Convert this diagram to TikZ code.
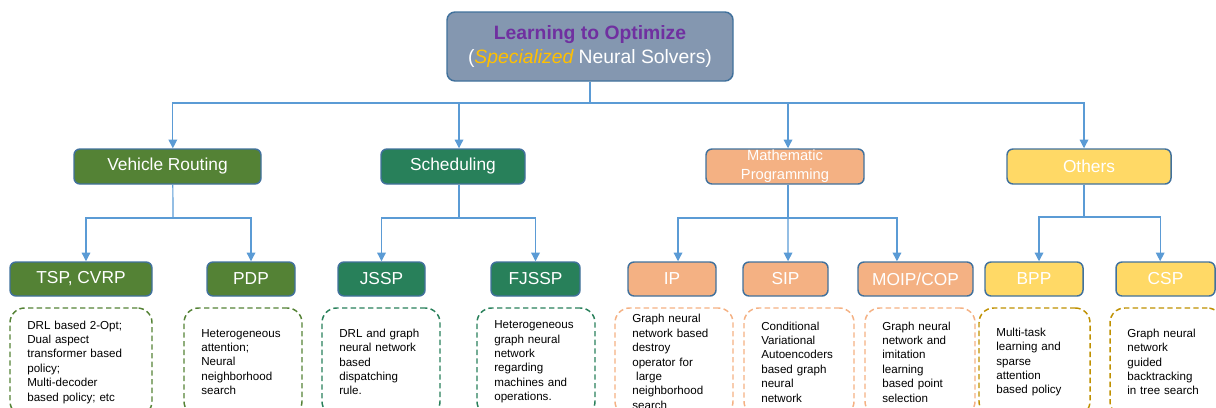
\documentclass[tikz,border=0pt]{standalone}
\usepackage{fontspec}
\setmainfont{Liberation Sans}
\usepackage{tikz}
\usetikzlibrary{arrows.meta}
\definecolor{rootfill}{HTML}{8497B0}
\definecolor{boxline}{HTML}{41719C}
\definecolor{linkblue}{HTML}{5B9BD5}
\definecolor{titlepurple}{HTML}{7030A0}
\definecolor{specgold}{HTML}{FFC000}
\definecolor{vrgreen}{HTML}{548235}
\definecolor{schedgreen}{HTML}{28805A}
\definecolor{mporange}{HTML}{F4B183}
\definecolor{othyellow}{HTML}{FFD966}
\definecolor{othgold}{HTML}{BF9000}

\begin{document}
\begin{tikzpicture}[x=0.75pt,y=-0.75pt]
    \tikzset{root/.style = {draw=boxline, line width=1.1pt, rounded corners=6pt, fill=rootfill, align=center, inner sep=0pt, font=\fontsize{14.5}{18}\selectfont}}
    \tikzset{cat/.style = {draw=boxline, line width=1.1pt, rounded corners=4.5pt, text=white, inner sep=0pt, minimum height=26.25pt, font=\fontsize{13}{15}\selectfont}}
    \tikzset{leaf/.style = {cat, minimum height=25.5pt}}
    \tikzset{note/.style = {draw, dash pattern=on 4pt off 2.5pt, line width=1.1pt, rounded corners=11pt, minimum height=81pt, align=left, inner xsep=13pt, inner ysep=2pt, font=\fontsize{8.7}{10.8}\selectfont}}
    \tikzset{link/.style = {draw=linkblue, line width=0.9pt, -{Triangle[length=6.5pt,width=6.5pt]}}}
    \tikzset{stem/.style = {draw=linkblue, line width=0.9pt}}

    \useasboundingbox (0,0) rectangle (1216,407);
    \clip (0,0) rectangle (1216,407);

    % vertices
    \node[root, minimum width=214.5pt, minimum height=51.75pt] (top) at (590,46.5)
        {{\color{titlepurple}\bfseries Learning to Optimize}\\
         \color{white}(\textcolor{specgold}{\itshape Specialized} Neural Solvers)};

    \node[cat, fill=vrgreen, minimum width=140.25pt] (vr) at (167.5,166.5) {Vehicle Routing};
    \node[cat, fill=schedgreen, minimum width=108pt] (sched) at (453,166.5) {Scheduling};
    \node[cat, fill=mporange, minimum width=118.5pt, align=center, font=\fontsize{11}{14.5}\selectfont] (mp) at (785,166.5) {Mathematic\\Programming};
    \node[cat, fill=othyellow, minimum width=123pt] (oth) at (1089,166.5) {Others};

    \node[leaf, fill=vrgreen, minimum width=106.5pt] (tsp) at (81,279) {TSP, CVRP};
    \node[leaf, fill=vrgreen, minimum width=66pt] (pdp) at (251,279) {PDP};
    \node[leaf, fill=schedgreen, minimum width=65.25pt] (jssp) at (381.5,279) {JSSP};
    \node[leaf, fill=schedgreen, minimum width=66.75pt] (fjssp) at (535.5,279) {FJSSP};
    \node[leaf, fill=mporange, minimum width=66pt] (ip) at (672,279) {IP};
    \node[leaf, fill=mporange, minimum width=63.75pt] (sip) at (785.5,279) {SIP};
    \node[leaf, fill=mporange, minimum width=86.25pt] (moip) at (915.5,279) {MOIP/COP};
    \node[leaf, fill=othyellow, minimum width=73.5pt] (bpp) at (1034,279) {BPP};
    \node[leaf, fill=othyellow, minimum width=74.25pt] (csp) at (1165.5,279) {CSP};

    \node[note, draw=vrgreen, text width=80.5pt] (tspnote) at (81,362)
        {DRL based 2-Opt;\\Dual aspect\\transformer based\\policy;\\Multi-decoder\\based policy; etc};
    \node[note, draw=vrgreen, text width=62.5pt] (pdpnote) at (243,362)
        {Heterogeneous\\attention;\\Neural\\neighborhood\\search};
    \node[note, draw=schedgreen, text width=62.5pt] (jsspnote) at (381,362)
        {DRL and graph\\neural network\\based\\dispatching\\rule.};
    \node[note, draw=schedgreen, text width=62.5pt] (fjsspnote) at (536,362)
        {Heterogeneous\\graph neural\\network\\regarding\\machines and\\operations.};
    \node[note, draw=mporange, text width=62.5pt] (ipnote) at (674,362)
        {Graph neural\\network based\\destroy\\operator for\\\ large\\neighborhood\\search};
    \node[note, draw=mporange, text width=56.5pt] (sipnote) at (799,362)
        {Conditional\\Variational\\Autoencoders\\based graph\\neural\\network};
    \node[note, draw=mporange, text width=56.5pt] (moipnote) at (920,362)
        {Graph neural\\network and\\imitation\\learning\\based point\\selection};
    \node[note, draw=othgold, text width=57.25pt] (bppnote) at (1034.5,362)
        {Multi-task\\learning and\\sparse\\attention\\based policy};
    \node[note, draw=othgold, text width=58pt] (cspnote) at (1166,362)
        {Graph neural\\network\\guided\\backtracking\\in tree search};

    % edges
    \coordinate (j0) at (590,103);
    \coordinate (j1) at (173,218);
    \coordinate (j2) at (459,218);
    \coordinate (j3) at (788,218);
    \coordinate (j4) at (1084,217);

    \draw[stem] (top) -- (j0);
    \draw[link] (j0) -| ([xshift=4pt]vr.north);
    \draw[link] (j0) -| ([xshift=4.5pt]sched.north);
    \draw[link] (j0) -| ([xshift=2.25pt]mp.north);
    \draw[link] (j0) -| ([xshift=-3.75pt]oth.north);

    \draw[stem] ([xshift=4pt]vr.south) -- (j1);
    \draw[link] (j1) -| ([xshift=3.75pt]tsp.north);
    \draw[link] (j1) -| (pdp.north);

    \draw[stem] ([xshift=4.5pt]sched.south) -- (j2);
    \draw[link] (j2) -| (jssp.north);
    \draw[link] (j2) -| (fjssp.north);

    \draw[stem] ([xshift=2.25pt]mp.south) -- (j3);
    \draw[link] (j3) -| ([xshift=4.5pt]ip.north);
    \draw[link] (j3) -- ([xshift=1.9pt]sip.north);
    \draw[link] (j3) -| ([xshift=-13.9pt]moip.north);

    \draw[stem] ([xshift=-3.75pt]oth.south) -- (j4);
    \draw[link] (j4) -| ([xshift=3.75pt]bpp.north);
    \draw[link] (j4) -| ([xshift=-4pt]csp.north);
\end{tikzpicture}
\end{document}
